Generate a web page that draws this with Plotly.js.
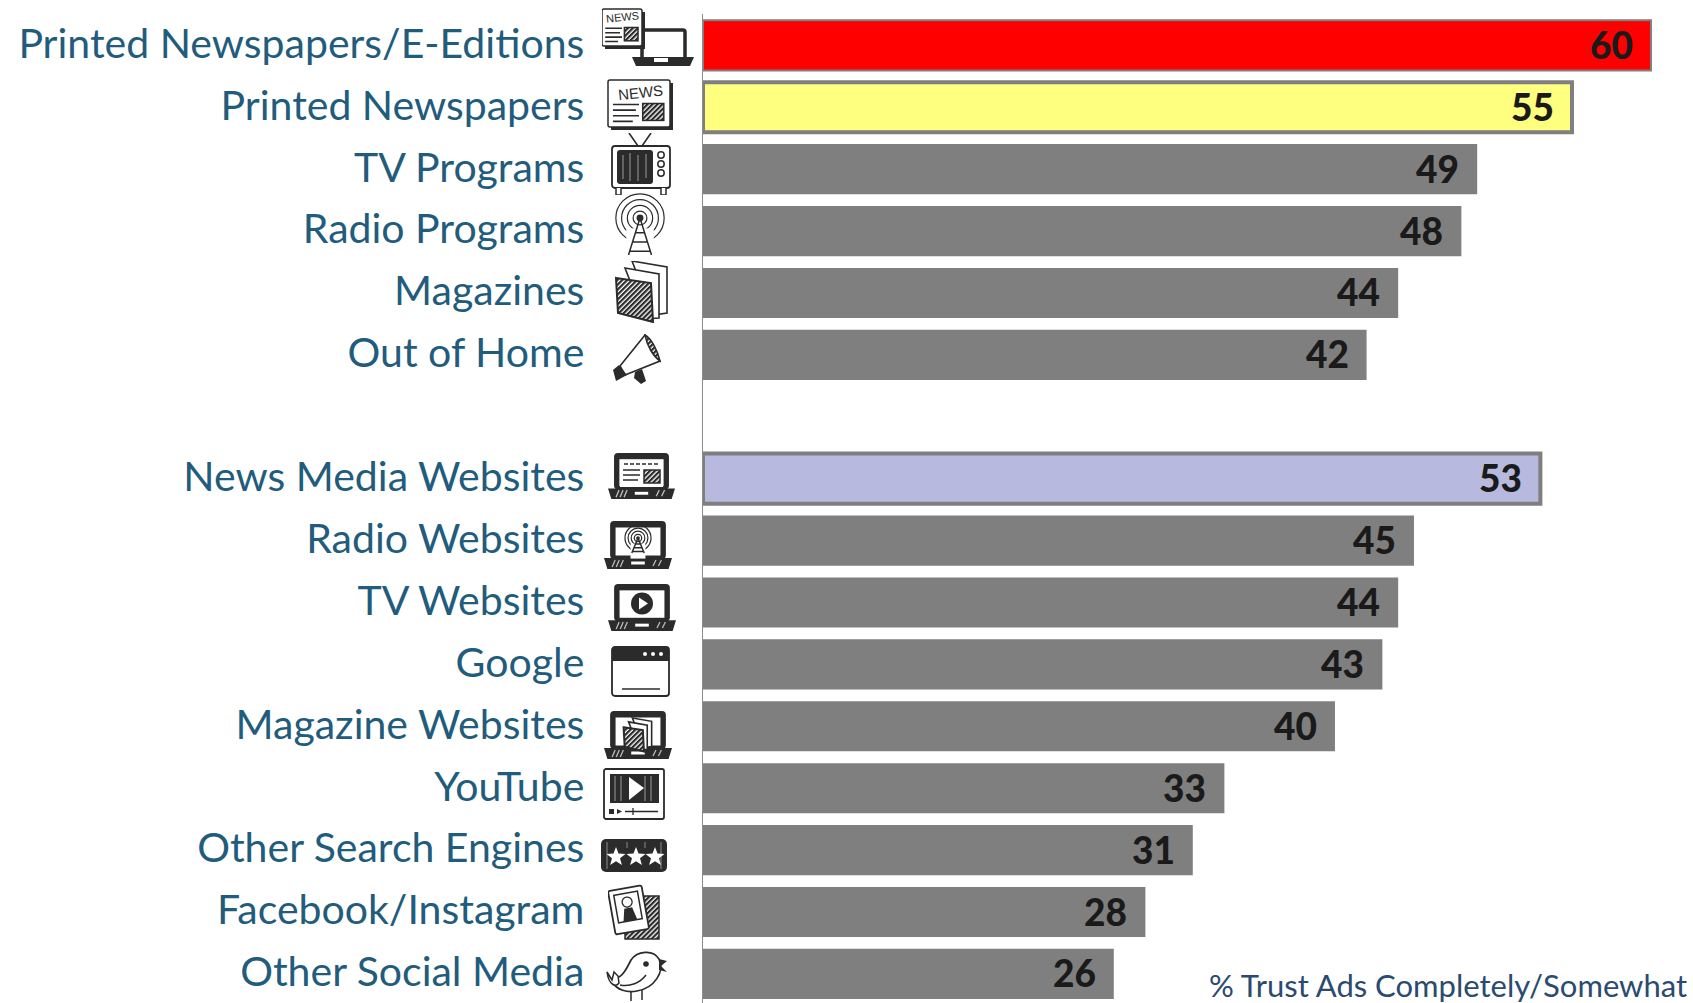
<!DOCTYPE html>
<html><head><meta charset="utf-8"><script src="https://cdn.plot.ly/plotly-3.0.0.min.js"></script>
<style>html,body{margin:0;padding:0;background:#fff}</style></head><body><div id="c" style="width:1693px;height:1003px"></div>
<script>
const categories=["Printed Newspapers/E-Editions","Printed Newspapers","TV Programs","Radio Programs","Magazines","Out of Home"," ","News Media Websites","Radio Websites","TV Websites","Google","Magazine Websites","YouTube","Other Search Engines","Facebook/Instagram","Other Social Media"];
const values=[60,55,49,48,44,42,null,53,45,44,43,40,33,31,28,26];
const colors=["#ff0000","#ffff7f","#7f7f7f","#7f7f7f","#7f7f7f","#7f7f7f","#7f7f7f","#b7bade","#7f7f7f","#7f7f7f","#7f7f7f","#7f7f7f","#7f7f7f","#7f7f7f","#7f7f7f","#7f7f7f"];
const outlineWidths=[2,4,0,0,0,0,0,4,0,0,0,0,0,0,0,0];
const outlineColor="#7f7f7f";
const ink="#2b2b2b";

const PLOT_L=703,PLOT_W=990,PLOT_T=14,PLOT_H=989;
const hatch=(x,y,w,h,t='')=>`<rect x="${x}" y="${y}" width="${w}" height="${h}" fill="url(#h)" stroke="${ink}" stroke-width="1.5" ${t}/>`;
function newsPage(x,y,w,h){return `<rect x="${x+3}" y="${y+3}" width="${w}" height="${h}" fill="${ink}"/><rect x="${x}" y="${y}" width="${w}" height="${h}" rx="2" fill="#fff" stroke="${ink}" stroke-width="1.5"/>`+
 `<path d="M${x+w*.08} ${y+h*.52}H${x+w*.5}M${x+w*.08} ${y+h*.64}H${x+w*.45}M${x+w*.08} ${y+h*.76}H${x+w*.5}M${x+w*.08} ${y+h*.88}H${x+w*.4}" stroke="${ink}" stroke-width="1.6"/>`+hatch(x+w*.56,y+h*.5,w*.34,h*.36);}
function laptop(w,h,inner){return `<rect x="${w*.09}" y="1" width="${w*.82}" height="${h*.76}" rx="4" fill="${ink}"/><rect x="${w*.17}" y="${h*.15}" width="${w*.66}" height="${h*.56}" fill="#fff"/>`+
 `<path d="M0 ${h*.76}H${w}L${w*.95} ${h*.98}H${w*.05}Z" fill="${ink}"/><rect x="${w*.4}" y="${h*.83}" width="${w*.2}" height="${h*.06}" fill="#fff"/>`+
 `<path d="M${w*.12} ${h*.94}l3 -7M${w*.18} ${h*.94}l3 -7M${w*.24} ${h*.94}l3 -7M${w*.72} ${h*.92}l3 -6M${w*.8} ${h*.92}l3 -6" stroke="#bbb" stroke-width="1.3"/>`+inner;}
function rings(cx,cy,s){return [6,11,16,21].map(r=>`<circle cx="${cx}" cy="${cy}" r="${r*s}" fill="none" stroke="${ink}" stroke-width="${1.2}"/>`).join('')+`<circle cx="${cx}" cy="${cy}" r="${3*s}" fill="${ink}"/>`;}
function tower(cx,cy,s,b){return `<rect x="${cx-12*s}" y="${cy+9*s}" width="${24*s}" height="${b-cy}" fill="#fff"/><path d="M${cx} ${cy}L${cx-10*s} ${b}M${cx} ${cy}L${cx+10*s} ${b}M${cx-4*s} ${cy+(b-cy)*.4}H${cx+4*s}M${cx-6*s} ${cy+(b-cy)*.65}H${cx+6*s}M${cx-9*s} ${cy+(b-cy)*.9}H${cx+9*s}" stroke="${ink}" stroke-width="1.5" fill="none"/>`;}
function mags(x,y,s){return `<path d="M${x+17*s} ${y}L${x+52*s} ${y+6*s}V${y+52*s}L${x+38*s} ${y+54*s}Z" fill="#fff" stroke="${ink}" stroke-width="1.6"/><path d="M${x+10*s} ${y+7*s}L${x+44*s} ${y+13*s}V${y+57*s}L${x+30*s} ${y+58*s}Z" fill="#fff" stroke="${ink}" stroke-width="1.6"/><path d="M${x+1*s} ${y+17*s}L${x+36*s} ${y+22*s}L${x+38*s} ${y+61*s}L${x+3*s} ${y+52*s}Z" fill="url(#h)" stroke="${ink}" stroke-width="2"/>`;}
const star=(cx,cy,r)=>{let p=[];for(let i=0;i<10;i++){const a=-Math.PI/2+i*Math.PI/5,q=i%2?r*.42:r;p.push((cx+q*Math.cos(a)).toFixed(1)+','+(cy+q*Math.sin(a)).toFixed(1));}return `<polygon points="${p.join(' ')}" fill="#fff"/>`;};

const icons=[
 {box:[602,8,92,59],svg:()=>`<rect x="40" y="22" width="43" height="31" rx="2" fill="#fff" stroke="${ink}" stroke-width="3.5"/><path d="M30 49H92L88 58H34Z" fill="${ink}"/><rect x="52" y="50" width="14" height="4" fill="#fff"/>`+newsPage(0,1,40,37)},
 {box:[607,79,69,53],svg:()=>newsPage(1,1,62,47)},
 {box:[611,133,60,62],svg:()=>`<path d="M18 0L27 13M40 0L31 13" stroke="${ink}" stroke-width="1.6"/><rect x="1" y="13" width="58" height="42" rx="3" fill="#fff" stroke="${ink}" stroke-width="1.8"/><rect x="6" y="17" width="36" height="34" rx="3" fill="${ink}"/><path d="M12 22v24M19 20v28M27 22v26M35 21v24" stroke="#777" stroke-width="1.5"/><circle cx="50" cy="22" r="3.2" fill="none" stroke="${ink}" stroke-width="1.5"/><circle cx="50" cy="31" r="3.2" fill="none" stroke="${ink}" stroke-width="1.5"/><circle cx="50" cy="40" r="3.2" fill="none" stroke="${ink}" stroke-width="1.5"/><path d="M5 55v7h5v-7M50 55v7h5v-7" fill="#fff" stroke="${ink}" stroke-width="1.5"/>`},
 {box:[614,193,52,63],svg:()=>rings(26,25,1.15)+tower(26,25,1.15,62)},
 {box:[615,261,57,62],svg:()=>mags(0,0,1)},
 {box:[612,334,50,51],svg:()=>`<path d="M8 32L33 1L48 27L13 41Z" fill="#fff" stroke="${ink}" stroke-width="1.6"/><path d="M33 1C40 5 46 18 48 27C41 22 35 12 33 1Z" fill="url(#h)" stroke="${ink}" stroke-width="1.5"/><path d="M7 31L1 36L4 47L15 41Z" fill="${ink}"/><path d="M23 38L22 44L29 50L34 47L30 35Z" fill="${ink}"/>`},
 {box:[608,452,67,48],svg:(w,h)=>laptop(w,h,`<rect x="12" y="8" width="43" height="27" fill="#fff"/><path d="M16 12H50" stroke="${ink}" stroke-width="1.5" stroke-dasharray="4 2"/><path d="M15 18H32M15 23H32M15 28H30" stroke="${ink}" stroke-width="1.4"/>`+hatch(36,18,16,13))},
 {box:[604,520,68,50],svg:(w,h)=>laptop(w,h,rings(w/2,h*.36,.62)+tower(w/2,h*.36,.62,h*.66))},
 {box:[608,583,68,49],svg:(w,h)=>laptop(w,h,`<circle cx="${w/2}" cy="${h*.42}" r="11" fill="${ink}"/><polygon points="${w/2-3},${h*.42-6} ${w/2-3},${h*.42+6} ${w/2+6},${h*.42}" fill="#fff"/>`)},
 {box:[611,646,59,51],svg:()=>`<rect x="1" y="1" width="57" height="49" rx="3" fill="#fff" stroke="${ink}" stroke-width="1.8"/><path d="M1 15V4Q1 1 4 1H55Q58 1 58 4V15Z" fill="${ink}"/><circle cx="34" cy="8" r="2" fill="#fff"/><circle cx="42" cy="8" r="2" fill="#fff"/><circle cx="50" cy="8" r="2" fill="#fff"/><path d="M11 43H49" stroke="${ink}" stroke-width="1.6"/>`},
 {box:[604,710,68,50],svg:(w,h)=>laptop(w,h,mags(w*.28,h*.16,.55))},
 {box:[603,768,63,52],svg:()=>`<rect x="1" y="1" width="60" height="50" rx="2" fill="#fff" stroke="${ink}" stroke-width="1.8"/><rect x="7" y="6" width="49" height="29" fill="${ink}"/><path d="M12 8v25M18 8v25M42 8v25M48 8v25" stroke="#777" stroke-width="1.5"/><polygon points="26,9 26,32 41,20" fill="#fff"/><rect x="6" y="41" width="5" height="5" fill="${ink}"/><polygon points="14,41 14,46 19,43.5" fill="${ink}"/><path d="M22 43.5H55M30 40v7" stroke="${ink}" stroke-width="1.3"/>`},
 {box:[601,839,66,33],svg:()=>`<rect x="0" y="0" width="66" height="33" rx="5" fill="${ink}"/><path d="M6 3v27M26 3v6M44 3v6M60 3v27" stroke="#777" stroke-width="1.3"/>`+star(15,18,10)+star(35,18,10)+star(54,18,10)},
 {box:[608,882,53,58],svg:()=>`<rect x="17" y="14" width="34" height="43" fill="url(#h)" stroke="${ink}" stroke-width="1.5"/><g transform="rotate(-10 20 25)"><rect x="3" y="6" width="34" height="44" rx="2" fill="#fff" stroke="${ink}" stroke-width="1.8"/><rect x="8" y="11" width="24" height="28" fill="#fff" stroke="${ink}" stroke-width="1.5"/><circle cx="20" cy="20" r="5" fill="#fff" stroke="${ink}" stroke-width="1.3"/><path d="M13 39L16 26H24L27 39Z" fill="${ink}"/></g>`},
 {box:[605,950,63,52],svg:()=>`<path d="M12 28C18 26 22 18 26 10C32 1 48 -1 54 9C60 21 50 38 32 41C22 43 12 40 7 32" fill="#fff" stroke="${ink}" stroke-width="1.7"/><path d="M2 22L7 30L9 22L13 26L14 33C11 37 4 36 2 22Z" fill="#fff" stroke="${ink}" stroke-width="1.5"/><path d="M15 35C25 37 35 33 41 25" fill="none" stroke="${ink}" stroke-width="1.5"/><circle cx="41" cy="14" r="2.8" fill="${ink}"/><path d="M54 9L62 11L56 16L62 22L54 20" fill="${ink}"/><path d="M26 42V51M37 40V50" stroke="${ink}" stroke-width="1.5"/>`}
];
const defs=`<defs><pattern id="h" width="3.5" height="3.5" patternUnits="userSpaceOnUse" patternTransform="rotate(45)"><rect width="3.5" height="3.5" fill="#fff"/><rect width="2.2" height="3.5" fill="${ink}"/></pattern></defs>`;
const images=icons.map(ic=>{const [x,y,w,h]=ic.box;
 const s=`<svg xmlns="http://www.w3.org/2000/svg" width="${w*2}" height="${h*2}" viewBox="0 0 ${w} ${h}">${defs}${ic.svg(w,h)}</svg>`;
 return {source:'data:image/svg+xml;charset=utf-8,'+encodeURIComponent(s),xref:'paper',yref:'paper',x:(x-PLOT_L)/PLOT_W,y:1-(y-PLOT_T)/PLOT_H,sizex:w/PLOT_W,sizey:h/PLOT_H,xanchor:'left',yanchor:'top',sizing:'stretch',layer:'above'};});

const pxAnn=(px,py,txt,size,rot)=>({xref:'paper',yref:'paper',x:(px-PLOT_L)/PLOT_W,y:1-(py-PLOT_T)/PLOT_H,xanchor:'center',yanchor:'middle',text:txt,showarrow:false,textangle:rot,font:{family:'Liberation Sans',size:size,color:ink}});
const valueLabels=values.map((v,i)=>v===null?null:({x:v,y:i,xref:'x',yref:'y',xanchor:'right',yanchor:'middle',xshift:-16,yshift:1,showarrow:false,text:String(v),font:{family:'Lato',size:37,color:'#1a1a1a',weight:900}})).filter(Boolean);

Plotly.newPlot('c',[{type:'bar',orientation:'h',y:categories.map((c,i)=>i),x:values,cliponaxis:false,width:0.81,
marker:{color:colors,line:{color:outlineColor,width:outlineWidths}},hoverinfo:'skip'}],{
width:1693,height:1003,margin:{l:PLOT_L,r:0,t:PLOT_T,b:0,pad:0},showlegend:false,paper_bgcolor:'#fff',plot_bgcolor:'#fff',
xaxis:{range:[0,62.66],visible:false,fixedrange:true},
yaxis:{autorange:false,range:[15.47,-0.507],tickmode:'array',tickvals:categories.map((c,i)=>i),ticktext:categories,ticks:'',ticklen:0,tickfont:{family:'Lato',size:41,color:'#225c7c'},showgrid:false,zeroline:false,showline:true,linecolor:'#8c8c8c',linewidth:1.5,ticklabelstandoff:109,ticklabelshift:2},
images:images,
annotations:valueLabels.concat([
 {xref:'paper',yref:'paper',x:(1689-PLOT_L)/PLOT_W,y:0,yshift:-3,xanchor:'right',yanchor:'bottom',text:'% Trust Ads Completely/Somewhat',showarrow:false,font:{family:'Lato',size:31,color:'#2a4a6f'}},
 pxAnn(622,17,'NEWS',11,-6),pxAnn(640,92,'NEWS',15,-6)])
},{staticPlot:true});
</script></body></html>
